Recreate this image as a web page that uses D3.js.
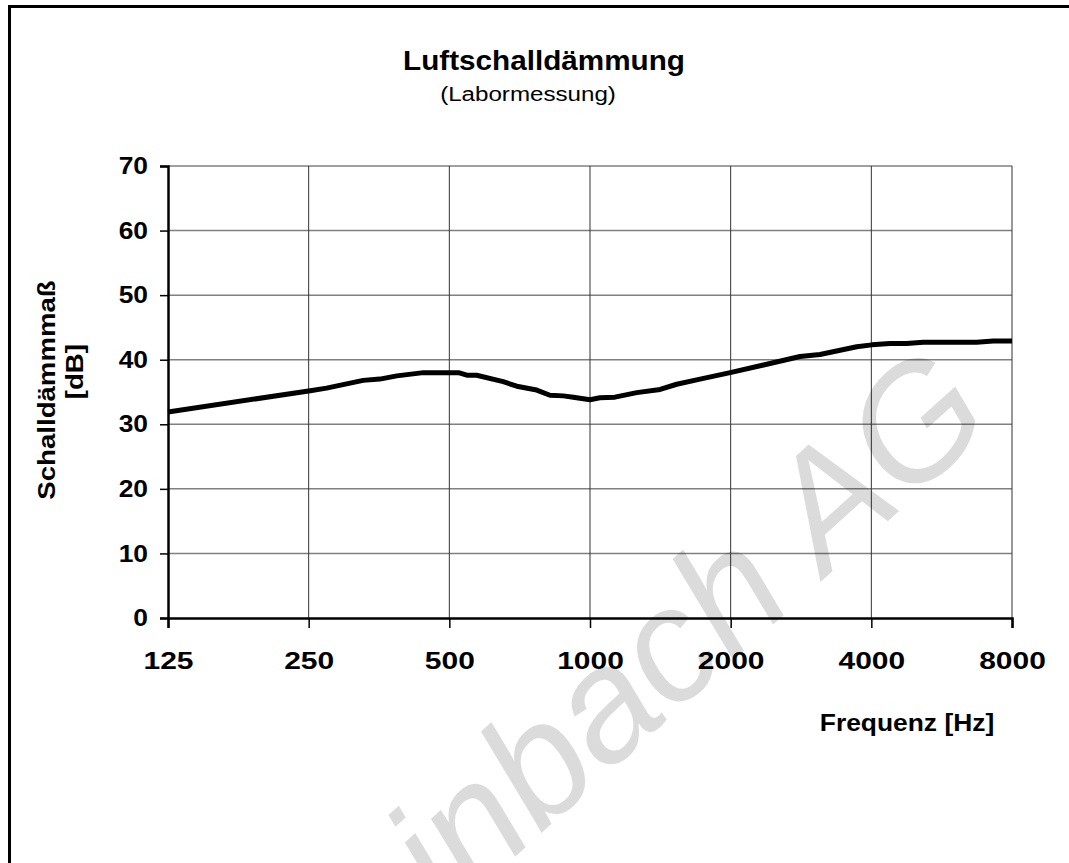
<!DOCTYPE html>
<html>
<head>
<meta charset="utf-8">
<script src="https://cdn.jsdelivr.net/npm/d3@7"></script>
<style>
  html, body { margin: 0; padding: 0; background: #fff; }
  svg { display: block; }
  text { font-family: Arial, "Liberation Sans", sans-serif; }
</style>
</head>
<body>
<div id="chart"></div>
<script>
// ---- data ----
const frequencies = [125, 252, 273, 327, 355, 386, 440, 523, 545, 572, 652, 697, 769, 821, 877, 921, 1000, 1050, 1131, 1259, 1413, 1533, 1720, 1995, 2390, 2815, 3106, 3722, 4010, 4384, 4760, 5165, 6720, 7294, 8000];
const soundReduction = [31.9, 35.2, 35.6, 36.8, 37.0, 37.5, 38.0, 38.0, 37.6, 37.6, 36.6, 35.9, 35.3, 34.5, 34.4, 34.2, 33.8, 34.1, 34.2, 34.9, 35.4, 36.2, 37.0, 38.0, 39.3, 40.5, 40.8, 42.0, 42.3, 42.5, 42.5, 42.7, 42.7, 42.9, 42.9];
const xTicks = [125, 250, 500, 1000, 2000, 4000, 8000];
const yTicks = [0, 10, 20, 30, 40, 50, 60, 70];
const titleText = "Luftschalldämmung";
const subtitleText = "(Labormessung)";
const yTitleLines = ["Schalldämmmaß", "[dB]"];
const xTitleText = "Frequenz [Hz]";
const watermarkText = "Steinbach AG";

const W = 1069, H = 863;
const svg = d3.select("#chart").append("svg").attr("width", W).attr("height", H);

// outer frame (continues beyond the visible area)
svg.append("rect").attr("x", 9.5).attr("y", 6.5).attr("width", W + 20).attr("height", H + 20)
  .attr("fill", "none").attr("stroke", "#000").attr("stroke-width", 3);

const x = d3.scaleLog().base(2).domain([125, 8000]).range([168, 1012]);
const y = d3.scaleLinear().domain([0, 70]).range([618, 166]);

// horizontal gridlines
svg.append("g").selectAll("line").data(yTicks.filter(d => d > 0)).join("line")
  .attr("x1", x(125)).attr("x2", x(8000))
  .attr("y1", d => y(d)).attr("y2", d => y(d))
  .attr("stroke", "#808080").attr("stroke-width", 1.5);

// vertical gridlines
svg.append("g").selectAll("line").data(xTicks.filter(d => d > 125)).join("line")
  .attr("x1", d => x(d)).attr("x2", d => x(d))
  .attr("y1", y(70)).attr("y2", y(0))
  .attr("stroke", "#333").attr("stroke-width", 1);

// y axis
const yAxis = d3.axisLeft(y).tickValues(yTicks).tickSize(8).tickPadding(12).tickFormat(d3.format("d"));
const gy = svg.append("g").attr("transform", `translate(${x(125)},0)`).call(yAxis);
gy.select(".domain").attr("stroke", "#000").attr("stroke-width", 2.5);
gy.selectAll(".tick line").attr("stroke", "#000").attr("stroke-width", 1.5);
gy.selectAll(".tick text").attr("font-size", 24).attr("font-weight", "bold").attr("fill", "#000")
  .attr("font-family", "Arial, 'Liberation Sans', sans-serif")
  .attr("x", null)
  .attr("transform", "translate(-20,0) scale(1.1,1)");

// x axis
const xAxis = d3.axisBottom(x).tickValues(xTicks).tickSize(10).tickPadding(24).tickFormat(d3.format("d"));
const gx = svg.append("g").attr("transform", `translate(0,${y(0)})`).call(xAxis);
gx.select(".domain").attr("stroke", "#000").attr("stroke-width", 2.5);
gx.selectAll(".tick line").attr("stroke", "#000").attr("stroke-width", 1.5);
gx.selectAll(".tick text").attr("font-size", 24).attr("font-weight", "bold").attr("fill", "#000")
  .attr("font-family", "Arial, 'Liberation Sans', sans-serif")
  .attr("transform", "scale(1.25,1)");

// data line
const line = d3.line().x((d, i) => x(frequencies[i])).y(d => y(d));
svg.append("path").datum(soundReduction).attr("d", line)
  .attr("fill", "none").attr("stroke", "#000").attr("stroke-width", 5)
  .attr("stroke-linejoin", "round").attr("stroke-linecap", "butt");

// titles
svg.append("text").attr("transform", "translate(544,70) scale(1.06,1)").attr("text-anchor", "middle")
  .attr("font-size", 28).attr("font-weight", "bold").text(titleText);
svg.append("text").attr("transform", "translate(528,101) scale(1.15,1)").attr("text-anchor", "middle")
  .attr("font-size", 21).text(subtitleText);

// y title
const yt = svg.append("text").attr("text-anchor", "middle")
  .attr("font-size", 24).attr("font-weight", "bold");
yt.selectAll("tspan").data(yTitleLines).join("tspan")
  .attr("x", (d, i) => i === 0 ? 0 : 16).attr("dy", (d, i) => i === 0 ? 0 : 28).text(d => d);
yt.attr("transform", "translate(55,390) rotate(-90) scale(1.15,1)");

// x title
svg.append("text").attr("transform", "translate(907,731) scale(1.1,1)").attr("text-anchor", "middle")
  .attr("font-size", 24).attr("font-weight", "bold").text(xTitleText);

// watermark overlay
svg.append("text").attr("text-anchor", "end")
  .attr("transform", "translate(998,422) rotate(-42)")
  .attr("font-size", 160).attr("font-style", "italic").attr("fill", "#000").attr("fill-opacity", 0.14)
  .text(watermarkText);
</script>
</body>
</html>
